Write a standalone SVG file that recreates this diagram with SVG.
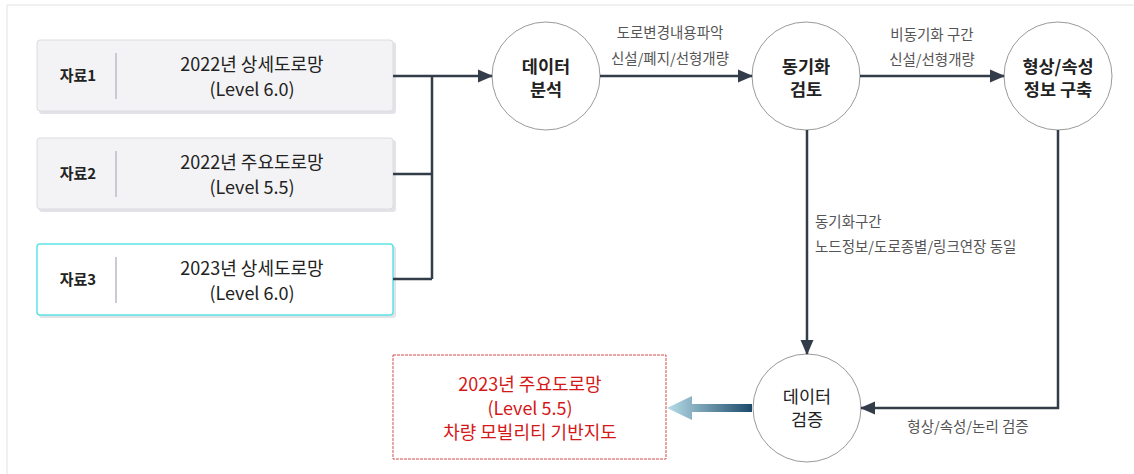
<svg xmlns="http://www.w3.org/2000/svg" width="1134" height="474" viewBox="0 0 1134 474">
<style>
text{font-family:"Noto Sans CJK KR","Noto Sans",sans-serif;}
.lbl{font-size:15px;font-weight:bold;fill:#222;text-anchor:middle;}
.main{font-size:18px;fill:#222;text-anchor:middle;}
.box{fill:#f3f3f5;stroke:#dcdce0;stroke-width:1;}
.shadow{fill:#e2e3e8;}
.div{stroke:#c8cbd2;stroke-width:2;}
.circ{fill:#fff;stroke:#9a9a9a;stroke-width:1;}
.ctext{font-size:17.5px;font-weight:bold;fill:#222;text-anchor:middle;}
.ctext2{font-size:17.5px;fill:#222;text-anchor:middle;}
.edge{fill:none;stroke:#333d4a;stroke-width:2.5;}
.elbl{font-size:14.5px;fill:#555;}
.out{font-size:18px;fill:#d41818;text-anchor:middle;}
</style>
<defs>
<marker id="ah2" markerWidth="15" markerHeight="15" refX="14" refY="7.5" orient="auto" markerUnits="userSpaceOnUse" viewBox="0 0 15 15">
<path d="M0,1 L15,7.5 L0,14 Z" fill="#333d4a"/>
</marker>
<linearGradient id="grad" x1="667" y1="0" x2="752" y2="0" gradientUnits="userSpaceOnUse">
<stop offset="0" stop-color="#b7dde8"/>
<stop offset="1" stop-color="#1d4a6a"/>
</linearGradient>
</defs>
<path d="M7,474 L7,5 L1134,5" fill="none" stroke="#e2e2e2" stroke-width="1"/>

<g id="src1">
<rect class="shadow" x="39" y="42" width="357" height="72" rx="3"/>
<rect class="box" x="37" y="40" width="356" height="71" rx="3"/>
<line class="div" x1="116" y1="53" x2="116" y2="99"/>
<text class="lbl" x="78" y="81">자료1</text>
<text class="main" x="252" y="71">2022년 상세도로망</text>
<text class="main" x="252" y="96">(Level 6.0)</text>
</g>
<g id="src2">
<rect class="shadow" x="39" y="140" width="357" height="72" rx="3"/>
<rect class="box" x="37" y="138" width="356" height="71" rx="3"/>
<line class="div" x1="116" y1="151" x2="116" y2="197"/>
<text class="lbl" x="78" y="179">자료2</text>
<text class="main" x="252" y="169">2022년 주요도로망</text>
<text class="main" x="252" y="194">(Level 5.5)</text>
</g>
<g id="src3">
<rect class="shadow" x="39" y="246" width="357" height="72" rx="3" fill="#eceef2"/>
<rect x="37" y="244" width="356" height="71" rx="3" fill="#fff" stroke="#5ee3e6" stroke-width="1.5"/>
<line class="div" x1="116" y1="257" x2="116" y2="303"/>
<text class="lbl" x="78" y="285">자료3</text>
<text class="main" x="252" y="275">2023년 상세도로망</text>
<text class="main" x="252" y="300">(Level 6.0)</text>
</g>

<g id="analysis">
<circle class="circ" cx="546" cy="76" r="54"/>
<text class="ctext" x="546" y="73">데이터</text>
<text class="ctext" x="546" y="96">분석</text>
</g>
<g id="sync">
<circle class="circ" cx="806" cy="76" r="54"/>
<text class="ctext" x="806" y="73">동기화</text>
<text class="ctext" x="806" y="96">검토</text>
</g>
<g id="build">
<circle class="circ" cx="1058" cy="76" r="54"/>
<text class="ctext" x="1058" y="73">형상/속성</text>
<text class="ctext" x="1058" y="96">정보 구축</text>
</g>
<g id="verify">
<circle class="circ" cx="807" cy="408" r="54"/>
<text class="ctext2" x="807" y="403">데이터</text>
<text class="ctext2" x="807" y="426">검증</text>
</g>
<g id="result">
<rect x="393" y="355" width="273" height="104" fill="#fff" stroke="#d44a4a" stroke-width="1" stroke-dasharray="3,1"/>
<text class="out" x="530" y="391">2023년 주요도로망</text>
<text class="out" x="530" y="415">(Level 5.5)</text>
<text class="out" x="530" y="439">차량 모빌리티 기반지도</text>
</g>

<g id="connectors">
<path class="edge" d="M393,76 L432,76 M393,174 L432,174 M393,279 L432,279 M432,76 L432,279"/>
<path class="edge" d="M432,76 L492,76" marker-end="url(#ah2)"/>
<path class="edge" d="M600,76 L752,76" marker-end="url(#ah2)"/>
<path class="edge" d="M860,76 L1004,76" marker-end="url(#ah2)"/>
<path class="edge" d="M807,130 L807,354" marker-end="url(#ah2)"/>
<path class="edge" d="M1058,130 L1058,408 L861,408" marker-end="url(#ah2)"/>
<path d="M752,404 L692,404 L692,396 L667,408 L692,420 L692,412 L752,412 Z" fill="url(#grad)"/>
<text class="elbl" x="670" y="38" text-anchor="middle">도로변경내용파악</text>
<text class="elbl" x="670" y="64" text-anchor="middle">신설/폐지/선형개량</text>
<text class="elbl" x="932" y="40" text-anchor="middle">비동기화 구간</text>
<text class="elbl" x="932" y="65" text-anchor="middle">신설/선형개량</text>
<text class="elbl" x="815" y="227">동기화구간</text>
<text class="elbl" x="815" y="252">노드정보/도로종별/링크연장 동일</text>
<text class="elbl" x="968" y="432" text-anchor="middle">형상/속성/논리 검증</text>
</g>
</svg>
